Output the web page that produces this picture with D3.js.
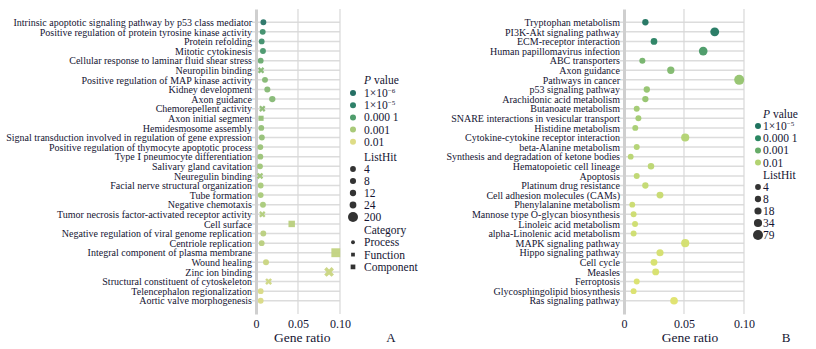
<html>
  <head>
    <title>GO / KEGG bubble</title>
    <meta charset="utf-8" />
    <script src="https://cdnjs.cloudflare.com/ajax/libs/d3/7.6.1/d3.min.js"></script>
    <style>
      body { margin: 0; background: #fff; }
      svg text { font-family: "Liberation Serif", "Times New Roman", Times, "DejaVu Serif", serif; fill: #141432; }
    </style>
  </head>
  <body>
    <svg width="816" height="349"></svg>
  </body>

  <script>
    const FONT = '"Liberation Serif", "Times New Roman", Times, "DejaVu Serif", serif';
    const INK = "#141432";

    // panel A (GO)
    const termsA = [
      "Intrinsic apoptotic signaling pathway by p53 class mediator",
      "Positive regulation of protein tyrosine kinase activity",
      "Protein refolding",
      "Mitotic cytokinesis",
      "Cellular response to laminar fluid shear stress",
      "Neuropilin binding",
      "Positive regulation of MAP kinase activity",
      "Kidney development",
      "Axon guidance",
      "Chemorepellent activity",
      "Axon initial segment",
      "Hemidesmosome assembly",
      "Signal transduction involved in regulation of gene expression",
      "Positive regulation of thymocyte apoptotic process",
      "Type Ⅰ pneumocyte differentiation",
      "Salivary gland cavitation",
      "Neuregulin binding",
      "Facial nerve structural organization",
      "Tube formation",
      "Negative chemotaxis",
      "Tumor necrosis factor-activated receptor activity",
      "Cell surface",
      "Negative regulation of viral genome replication",
      "Centriole replication",
      "Integral component of plasma membrane",
      "Wound healing",
      "Zinc ion binding",
      "Structural constituent of cytoskeleton",
      "Telencephalon regionalization",
      "Aortic valve morphogenesis"
    ];
    const ratioA = [0.0088, 0.008, 0.0068, 0.0083, 0.0056, 0.006, 0.0107, 0.0135, 0.0194, 0.0075,
      0.006, 0.0063, 0.007, 0.0052, 0.0052, 0.0048, 0.0048, 0.0056, 0.0056, 0.0083,
      0.0075, 0.0425, 0.0087, 0.0068, 0.095, 0.0119, 0.087, 0.015, 0.0056, 0.0056];
    const pvalA = [2e-6, 3e-5, 3e-5, 6e-5, 2e-4, 4e-4, 4e-4, 4e-4, 4e-4, 5e-4,
      6e-4, 6e-4, 6e-4, 7e-4, 7e-4, 8e-4, 8e-4, 1e-3, 1e-3, 1e-3,
      1.5e-3, 2e-3, 2e-3, 2e-3, 3e-3, 4e-3, 4e-3, 5e-3, 8e-3, 8e-3];
    const hitA = [5, 5, 4, 5, 4, 4, 6, 8, 12, 4,
      4, 4, 4, 4, 4, 4, 4, 4, 4, 5,
      4, 40, 5, 4, 200, 6, 110, 8, 4, 4];
    const catA = ["Process", "Process", "Process", "Process", "Process", "Function", "Process", "Process", "Process", "Function",
      "Component", "Process", "Process", "Process", "Process", "Process", "Function", "Process", "Process", "Process",
      "Function", "Component", "Process", "Process", "Component", "Process", "Function", "Function", "Process", "Process"];

    // panel B (KEGG)
    const termsB = [
      "Tryptophan metabolism",
      "PI3K-Akt signaling pathway",
      "ECM-receptor interaction",
      "Human papillomavirus infection",
      "ABC transporters",
      "Axon guidance",
      "Pathways in cancer",
      "p53 signaling pathway",
      "Arachidonic acid metabolism",
      "Butanoate metabolism",
      "SNARE interactions in vesicular transport",
      "Histidine metabolism",
      "Cytokine-cytokine receptor interaction",
      "beta-Alanine metabolism",
      "Synthesis and degradation of ketone bodies",
      "Hematopoietic cell lineage",
      "Apoptosis",
      "Platinum drug resistance",
      "Cell adhesion molecules (CAMs)",
      "Phenylalanine metabolism",
      "Mannose type O-glycan biosynthesis",
      "Linoleic acid metabolism",
      "alpha-Linolenic acid metabolism",
      "MAPK signaling pathway",
      "Hippo signaling pathway",
      "Cell cycle",
      "Measles",
      "Ferroptosis",
      "Glycosphingolipid biosynthesis",
      "Ras signaling pathway"
    ];
    const ratioB = [0.0178, 0.0756, 0.025, 0.066, 0.0153, 0.039, 0.096, 0.019, 0.0178, 0.0106,
      0.012, 0.0094, 0.051, 0.0106, 0.0056, 0.0225, 0.0106, 0.0178, 0.030, 0.0069,
      0.008, 0.0092, 0.008, 0.051, 0.030, 0.025, 0.0264, 0.0106, 0.008, 0.0417];
    const pvalB = [1e-5, 1.5e-5, 5e-5, 3e-4, 1.5e-3, 2e-3, 4e-3, 4e-3, 4e-3, 6e-3,
      6e-3, 7e-3, 1e-2, 1e-2, 1.2e-2, 1.3e-2, 1.5e-2, 1.7e-2, 2e-2, 2.2e-2,
      2.4e-2, 2.5e-2, 2.6e-2, 3e-2, 3.2e-2, 3.4e-2, 3.5e-2, 3.8e-2, 4e-2, 4.5e-2];
    const hitB = [8, 50, 12, 45, 6, 20, 79, 8, 8, 5,
      5, 5, 34, 5, 4, 10, 5, 8, 15, 4,
      5, 5, 5, 34, 18, 14, 14, 5, 5, 25];

    const xTicks = [0, 0.05, 0.10];
    const xTickLabels = ["0", "0.05", "0.10"];

    const pLegendA = [1e-6, 1e-5, 1e-4, 1e-3, 1e-2];
    const pLegendLabelsA = [["1×10", "−6"], ["1×10", "−5"], ["0.000 1", ""], ["0.001", ""], ["0.01", ""]];
    const hitLegendA = [4, 8, 12, 24, 200];
    const categories = ["Process", "Function", "Component"];

    const pLegendB = [1e-5, 1e-4, 1e-3, 1e-2];
    const pLegendLabelsB = [["1×10", "−5"], ["0.000 1", ""], ["0.001", ""], ["0.01", ""]];
    const hitLegendB = [4, 8, 18, 34, 79];

    let svg = d3.select("svg");

    let shapeOf = {
      Process: d3.symbolCircle,
      Function: d3.symbolCross,
      Component: d3.symbolSquare
    };

    function drawPanel(p) {
      let x = d3.scaleLinear().domain([0, 0.1]).range([p.left, p.right]);
      let y = d3.scalePoint().domain(p.terms).range([9, 314]).padding(1.38);
      let color = d3.scaleLog().domain(p.colorDomain).range(p.colorRange).clamp(true);
      let r = d3.scaleSqrt().domain([4, p.maxHit]).range([2.9, 5]);

      let g = svg.append("g");

      // gridlines
      g.selectAll(".hgrid")
        .data(p.terms)
        .enter()
        .append("line")
        .attr("x1", p.left - 4)
        .attr("x2", x(0.1))
        .attr("y1", (d) => y(d))
        .attr("y2", (d) => y(d))
        .attr("stroke", "#dcdcdc")
        .attr("stroke-width", 1.5);

      g.selectAll(".vgrid")
        .data(xTicks.slice(1))
        .enter()
        .append("line")
        .attr("x1", (d) => x(d))
        .attr("x2", (d) => x(d))
        .attr("y1", 9)
        .attr("y2", 314)
        .attr("stroke", "#d8d8d8")
        .attr("stroke-width", 1.2);

      // y axis
      let ya = g.append("g")
        .attr("transform", `translate(${p.left},0)`)
        .call(d3.axisLeft(y).tickSize(0).tickSizeOuter(0).tickPadding(4));
      ya.attr("font-family", null);
      ya.select(".domain").attr("stroke", "#cfcfcf").attr("stroke-width", 3);
      ya.selectAll("text")
        .style("font-family", FONT)
        .style("font-size", "10px")
        .attr("fill", INK);

      // x axis
      let xa = g.append("g")
        .attr("transform", "translate(0,314)")
        .call(d3.axisBottom(x).tickValues(xTicks).tickFormat((d, i) => xTickLabels[i]).tickSize(0).tickPadding(5));
      xa.attr("font-family", null);
      xa.select(".domain").remove();
      xa.selectAll("text")
        .style("font-family", FONT)
        .style("font-size", "12px")
        .attr("fill", INK);

      g.append("text")
        .attr("x", x(0.055))
        .attr("y", 342)
        .attr("text-anchor", "middle")
        .style("font-family", FONT)
        .style("font-size", "13.5px")
        .text("Gene ratio");

      g.append("text")
        .attr("x", p.letterX)
        .attr("y", 342)
        .attr("text-anchor", "middle")
        .style("font-family", FONT)
        .style("font-size", "13px")
        .text(p.letter);

      // points
      g.selectAll(".pt")
        .data(p.terms)
        .enter()
        .append("path")
        .attr("d", (d, i) => {
          let c = p.cats ? p.cats[i] : "Process";
          let rr = r(p.hits[i]);
          return d3.symbol().type(shapeOf[c]).size(Math.PI * rr * rr)();
        })
        .attr("transform", (d, i) => {
          let c = p.cats ? p.cats[i] : "Process";
          return `translate(${x(p.ratios[i])},${y(d)})` + (c === "Function" ? " rotate(45)" : "");
        })
        .attr("fill", (d, i) => color(p.pvals[i]))
        .attr("opacity", 0.95);

      // legend
      let lg = svg.append("g").style("font-family", FONT).style("font-size", "11.5px");
      let title = lg.append("text")
        .attr("x", p.legTextX)
        .attr("y", p.pTitleY)
        .attr("dy", "0.35em");
      title.append("tspan").style("font-style", "italic").text("P");
      title.append("tspan").text(" value");

      p.pLegend.forEach((v, i) => {
        let yy = p.pStartY + i * 12.2;
        lg.append("circle").attr("cx", p.legDotX).attr("cy", yy).attr("r", 3).attr("fill", color(v));
        let t = lg.append("text").attr("x", p.legTextX).attr("y", yy).attr("dy", "0.35em");
        t.append("tspan").text(p.pLabels[i][0]);
        if (p.pLabels[i][1]) {
          t.append("tspan").attr("dy", "-4").style("font-size", "7px").text(p.pLabels[i][1]);
        }
      });

      lg.append("text")
        .attr("x", p.legTextX)
        .attr("y", p.hitTitleY)
        .attr("dy", "0.35em")
        .text("ListHit");

      p.hitLegend.forEach((v, i) => {
        let yy = p.hitTitleY + 12 + i * 12;
        lg.append("circle").attr("cx", p.legDotX).attr("cy", yy).attr("r", r(v)).attr("fill", "#333");
        lg.append("text").attr("x", p.legTextX).attr("y", yy).attr("dy", "0.35em").text(v);
      });

      if (p.catTitleY) {
        lg.append("text")
          .attr("x", p.legTextX)
          .attr("y", p.catTitleY)
          .attr("dy", "0.35em")
          .text("Category");
        let catSize = [12, 14, 22];
        let catType = [d3.symbolCircle, d3.symbolSquare, d3.symbolSquare];
        categories.forEach((c, i) => {
          let yy = p.catTitleY + 12.3 + i * 12.3;
          lg.append("path")
            .attr("d", d3.symbol().type(catType[i]).size(catSize[i])())
            .attr("transform", `translate(${p.legDotX},${yy})`)
            .attr("fill", "#333");
          lg.append("text").attr("x", p.legTextX).attr("y", yy).attr("dy", "0.35em").text(c);
        });
      }
    }

    drawPanel({
      terms: termsA, ratios: ratioA, pvals: pvalA, hits: hitA, cats: catA,
      left: 256, right: 340, maxHit: 200,
      colorDomain: [1e-6, 1e-5, 1e-4, 1e-3, 1e-2],
      colorRange: ["#256f64", "#2e8169", "#4f9d6c", "#a9ca79", "#dedc86"],
      letter: "A", letterX: 391,
      legDotX: 353, legTextX: 364,
      pTitleY: 80, pStartY: 93, pLegend: pLegendA, pLabels: pLegendLabelsA,
      hitTitleY: 157, hitLegend: hitLegendA,
      catTitleY: 230
    });

    drawPanel({
      terms: termsB, ratios: ratioB, pvals: pvalB, hits: hitB, cats: null,
      left: 624, right: 744, maxHit: 79,
      colorDomain: [1e-5, 1e-4, 1e-3, 1e-2, 5e-2],
      colorRange: ["#1f735f", "#2b8762", "#67ac68", "#b2d371", "#e2e46b"],
      letter: "B", letterX: 786,
      legDotX: 758, legTextX: 763,
      pTitleY: 114, pStartY: 126, pLegend: pLegendB, pLabels: pLegendLabelsB,
      hitTitleY: 175, hitLegend: hitLegendB,
      catTitleY: null
    });
  </script>
</html>
